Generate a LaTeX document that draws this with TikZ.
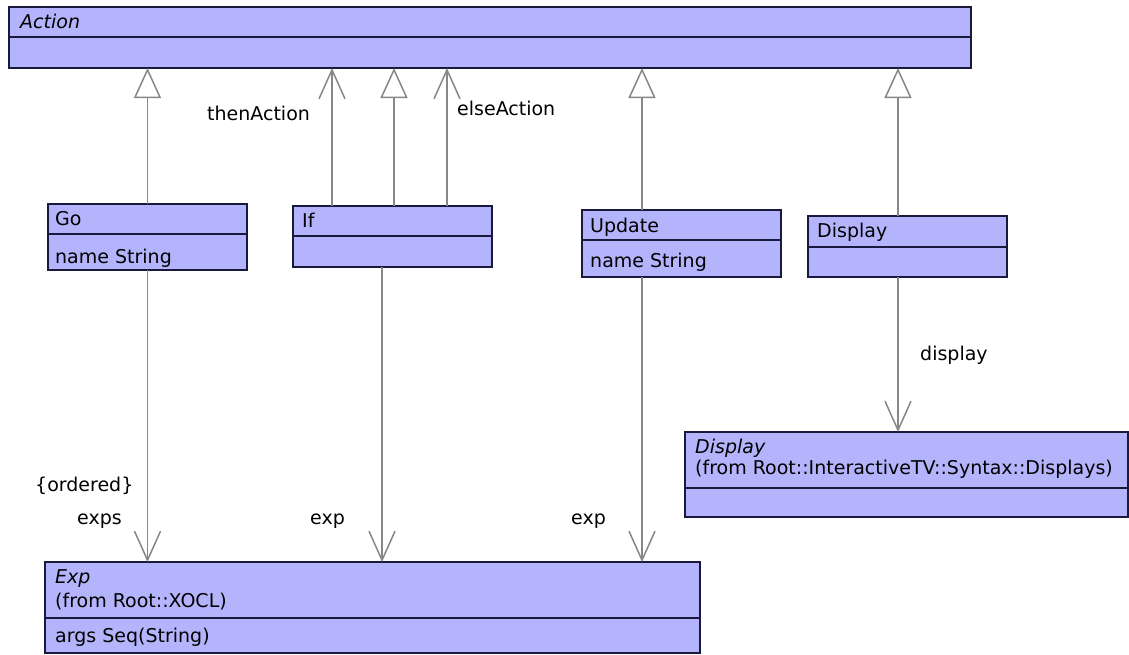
\documentclass[tikz,border=0pt]{standalone}
\usepackage{fontspec}
\setmainfont{DejaVu Sans}
\usetikzlibrary{arrows.meta}
\definecolor{clsfill}{RGB}{180,180,252}
\definecolor{clsline}{RGB}{25,25,60}
\definecolor{conn}{RGB}{135,135,135}
\tikzset{
 cls/.style={draw=clsline, fill=clsfill, line width=2pt, rectangle, inner sep=0pt, outer sep=0pt},
 divline/.style={draw=clsline, line width=1.5pt},
 txt/.style={anchor=base west, inner sep=0pt, font=\fontsize{19}{22}\selectfont},
 gen/.style={draw=conn, line width=1.5pt, -{Triangle[open, length=30pt, width=27pt, line width=1.5pt]}},
 assoc/.style={draw=conn, line width=1.5pt, -{Straight Barb[length=29pt, width=26pt, line width=1.5pt]}},
}
\begin{document}
\begin{tikzpicture}[x=1pt,y=1pt]
\useasboundingbox[fill=white] (0,0) rectangle (1129,-654);
% class boxes
\node[cls, minimum width=962pt, minimum height=61pt] (action) at (490,-37.5) {};
\node[cls, minimum width=199pt, minimum height=66pt] (go) at (147.5,-237) {};
\node[cls, minimum width=199pt, minimum height=61pt] (if) at (392.5,-236.5) {};
\node[cls, minimum width=199pt, minimum height=67pt] (update) at (681.5,-243.5) {};
\node[cls, minimum width=199pt, minimum height=61pt] (display) at (907.5,-246.5) {};
\node[cls, minimum width=443pt, minimum height=85pt] (displayc) at (906.5,-474.5) {};
\node[cls, minimum width=655pt, minimum height=91pt] (exp) at (372.5,-607.5) {};
% dividers
\draw[divline] ([yshift=-30pt]action.north west) -- ([yshift=-30pt]action.north east);
\draw[divline] ([yshift=-30pt]go.north west) -- ([yshift=-30pt]go.north east);
\draw[divline] ([yshift=-30pt]if.north west) -- ([yshift=-30pt]if.north east);
\draw[divline] ([yshift=-30pt]update.north west) -- ([yshift=-30pt]update.north east);
\draw[divline] ([yshift=-31pt]display.north west) -- ([yshift=-31pt]display.north east);
\draw[divline] ([yshift=-56pt]displayc.north west) -- ([yshift=-56pt]displayc.north east);
\draw[divline] ([yshift=-56pt]exp.north west) -- ([yshift=-56pt]exp.north east);
% box texts
\node[txt] (tAction) at ([xshift=11pt,yshift=-21pt]action.north west) {\itshape Action};
\node[txt] (tGo) at ([xshift=7pt,yshift=-21pt]go.north west) {Go};
\node[txt] (tGoA) at ([xshift=7pt,yshift=-59pt]go.north west) {name String};
\node[txt] (tIf) at ([xshift=9pt,yshift=-21pt]if.north west) {If};
\node[txt] (tUpd) at ([xshift=8pt,yshift=-22pt]update.north west) {Update};
\node[txt] (tUpdA) at ([xshift=8pt,yshift=-57pt]update.north west) {name String};
\node[txt] (tDisp) at ([xshift=9pt,yshift=-21pt]display.north west) {Display};
\node[txt] (tDC) at ([xshift=10pt,yshift=-21pt]displayc.north west) {\itshape Display};
\node[txt] (tDCf) at ([xshift=10pt,yshift=-42pt]displayc.north west) {(from Root::InteractiveTV::Syntax::Displays)};
\node[txt] (tExp) at ([xshift=10pt,yshift=-21pt]exp.north west) {\itshape Exp};
\node[txt] (tExpf) at ([xshift=10pt,yshift=-45pt]exp.north west) {(from Root::XOCL)};
\node[txt] (tExpA) at ([xshift=10pt,yshift=-80pt]exp.north west) {args Seq(String)};
% generalizations
\draw[gen] (go.north) -- (go.north |- action.south);
\draw[gen] ([xshift=1.5pt]if.north) -- ([xshift=1.5pt]if.north |- action.south);
\draw[gen] ([xshift=-39.5pt]update.north) -- ([xshift=-39.5pt]update.north |- action.south);
\draw[gen] ([xshift=-9.5pt]display.north) -- ([xshift=-9.5pt]display.north |- action.south);
% associations
\draw[assoc] ([xshift=-60.5pt]if.north) -- ([xshift=-60.5pt]if.north |- action.south);
\draw[assoc] ([xshift=54.5pt]if.north) -- ([xshift=54.5pt]if.north |- action.south);
\draw[assoc] (go.south) -- (go.south |- exp.north);
\draw[assoc] ([xshift=-10.5pt]if.south) -- ([xshift=-10.5pt]if.south |- exp.north);
\draw[assoc] ([xshift=-39.5pt]update.south) -- ([xshift=-39.5pt]update.south |- exp.north);
\draw[assoc] ([xshift=-9.5pt]display.south) -- ([xshift=-9.5pt]display.south |- displayc.north);
% labels
\node[txt] (lthen) at (207,-120) {thenAction};
\node[txt] (lelse) at (457,-115) {elseAction};
\node[txt] (lord) at (35,-491) {\{ordered\}};
\node[txt] (lexps) at (77,-524) {exps};
\node[txt] (lexp1) at (310,-524) {exp};
\node[txt] (lexp2) at (571,-524) {exp};
\node[txt] (ldisp) at (920,-360) {display};
\end{tikzpicture}
\end{document}
